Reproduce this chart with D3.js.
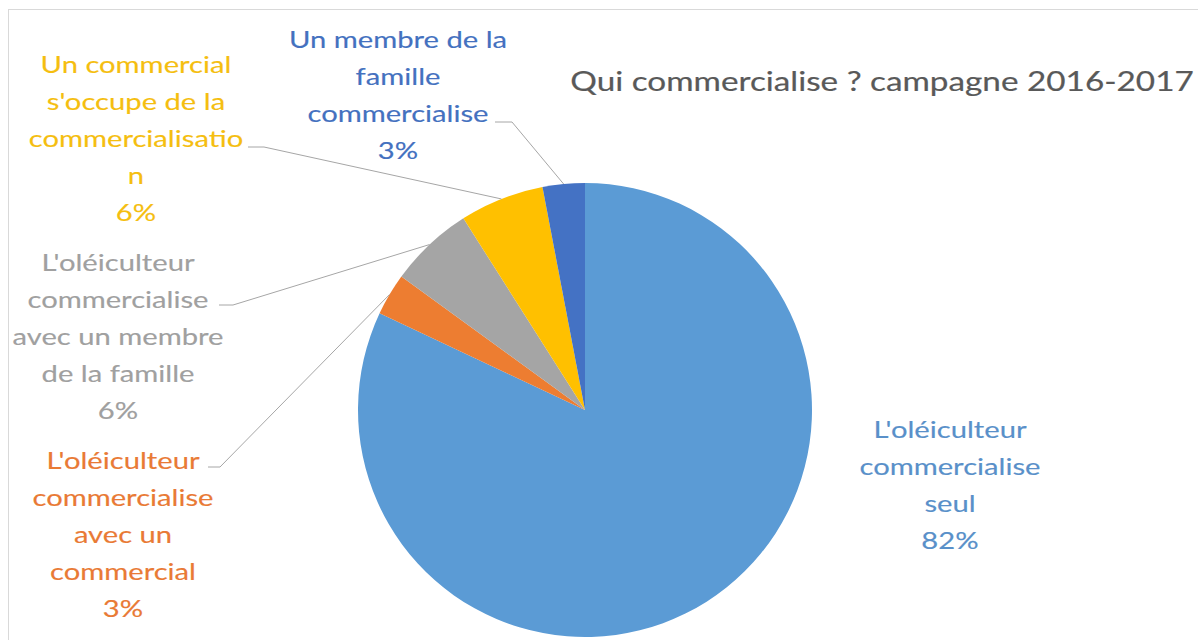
<!DOCTYPE html>
<html>
<head>
<meta charset="utf-8">
<script src="https://cdn.jsdelivr.net/npm/d3@7"></script>
<style>
  html, body { margin: 0; padding: 0; background: #ffffff; }
  svg { display: block; }
  text { font-family: Lato, "Open Sans", sans-serif; }
</style>
</head>
<body>
<svg id="chart" width="1198" height="640"></svg>
<script>
// Who sells the olive oil, 2016-2017 season (share of growers)
const categories = [
  "L'oléiculteur commercialise seul",
  "L'oléiculteur commercialise avec un commercial",
  "L'oléiculteur commercialise avec un membre de la famille",
  "Un commercial s'occupe de la commercialisation",
  "Un membre de la famille commercialise"
];
const values = [82, 3, 6, 6, 3];
const sliceColors = ["#5B9BD5", "#ED7D31", "#A5A5A5", "#FFC000", "#4472C4"];
const labelColors = ["#5990C9", "#E97A35", "#A0A0A0", "#F5BE10", "#4471BF"];
// wrapped label lines as they appear beside each slice
const labelLines = [
  ["L'oléiculteur", "commercialise", "seul"],
  ["L'oléiculteur", "commercialise", "avec un", "commercial"],
  ["L'oléiculteur", "commercialise", "avec un membre", "de la famille"],
  ["Un commercial", "s'occupe de la", "commercialisatio", "n"],
  ["Un membre de la", "famille", "commercialise"]
];
const title = "Qui commercialise ? campagne 2016-2017";

// layout
const cx = 585, cy = 410, radius = 227;
const lineH = 37, fontSize = 23, stretch = 1.27;
const labelLayout = [
  { x: 950, y: 430, leader: null },
  { x: 123, y: 461, leader: [[208, 467], [220, 467]] },
  { x: 118, y: 263, leader: [[219, 305], [233, 305]] },
  { x: 136, y: 65,  leader: [[248, 147], [264, 147]] },
  { x: 398, y: 40,  leader: [[495, 122], [512, 122]] }
];

const svg = d3.select("#chart");

// chart area frame
svg.append("rect")
  .attr("x", 8.5).attr("y", 9.5)
  .attr("width", 1300).attr("height", 700)
  .attr("fill", "none").attr("stroke", "#d9d9d9").attr("stroke-width", 1);

const pie = d3.pie().sort(null).value(d => d);
const arcs = pie(values);
const arc = d3.arc().innerRadius(0).outerRadius(radius);

const g = svg.append("g").attr("transform", `translate(${cx},${cy})`);
g.selectAll("path.slice")
  .data(arcs)
  .join("path")
  .attr("class", "slice")
  .attr("d", arc)
  .attr("fill", (d, i) => sliceColors[i])
  .attr("stroke", "none");

// leader lines: from the label tick to the slice's outer edge at its mid angle
arcs.forEach((a, i) => {
  const lay = labelLayout[i];
  if (!lay.leader) return;
  const mid = (a.startAngle + a.endAngle) / 2;
  const ex = cx + radius * Math.sin(mid);
  const ey = cy - radius * Math.cos(mid);
  const pts = lay.leader.concat([[ex, ey]]);
  svg.append("path")
    .attr("d", d3.line()(pts))
    .attr("fill", "none")
    .attr("stroke", "#a6a6a6")
    .attr("stroke-width", 1);
});

// data labels: category lines plus percentage
const fmt = d3.format(".0%");
arcs.forEach((a, i) => {
  const lay = labelLayout[i];
  const lines = labelLines[i].concat([fmt(values[i] / 100)]);
  const lg = svg.append("g")
    .attr("transform", `translate(${lay.x},${lay.y}) scale(${stretch},1)`);
  lg.selectAll("text")
    .data(lines)
    .join("text")
    .attr("x", 0)
    .attr("y", (d, k) => k * lineH)
    .attr("dy", "0.35em")
    .attr("text-anchor", "middle")
    .attr("font-size", fontSize)
    .attr("fill", labelColors[i])
    .attr("stroke", labelColors[i])
    .attr("stroke-width", 0.15)
    .text(d => d);
});

// title
svg.append("g")
  .attr("transform", `translate(882,82) scale(1.28,1)`)
  .append("text")
  .attr("x", 0).attr("y", 0)
  .attr("dy", "0.35em")
  .attr("text-anchor", "middle")
  .attr("font-size", 26)
  .attr("fill", "#595959")
  .attr("stroke", "#595959")
  .attr("stroke-width", 0.2)
  .text(title);
</script>
</body>
</html>
